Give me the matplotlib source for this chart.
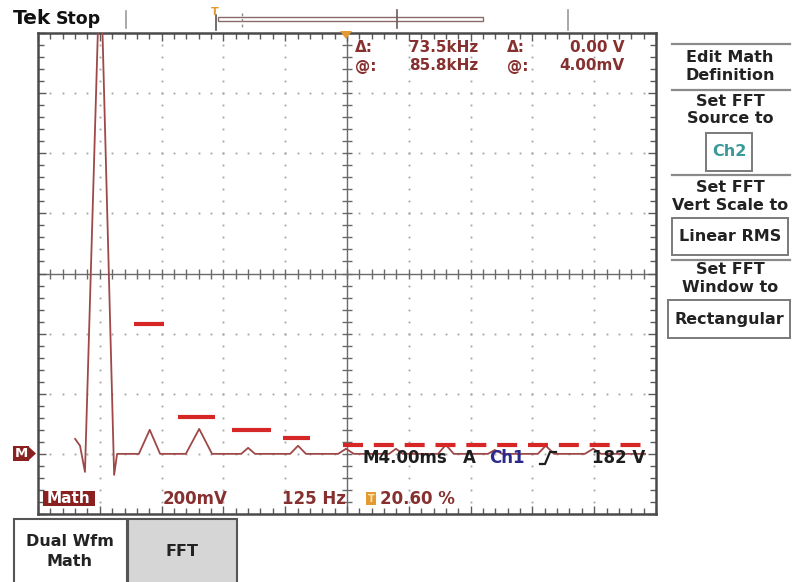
import matplotlib
matplotlib.use("Agg")
import matplotlib.pyplot as plt
from matplotlib.patches import Rectangle, Polygon
from matplotlib.lines import Line2D
import numpy as np

plt.rcParams['font.family'] = ['DejaVu Sans']
plt.rcParams['font.weight'] = 'bold'

W, H = 792, 582

# FFT of the math waveform: frequency (Hz) and magnitude (mV, linear RMS)
freq_hz = [75, 85, 95, 126, 154, 160, 204, 226, 247, 299, 326, 352, 411, 425, 439,
           510, 526, 542, 607, 623, 639, 710, 724, 738, 809, 825, 841, 910, 924, 939,
           1011, 1027, 1044, 1106, 1123, 1139, 1228]
mag_mv = [50, 27, -60, 1680, -70, 0, 0, 80, 0, 0, 83, 0, 0, 20, 0,
          0, 27, 0, 0, 17, 0, 0, 17, 0, 0, 30, 0, 0, 13, 0,
          0, 27, 0, 0, 17, 0, 0]

# Harmonic level markers (solid bars) and the floor marker (dashed)
bar_lo_hz = [194, 283, 392, 496]
bar_hi_hz = [255, 358, 471, 550]
bar_mv = [433, 123, 80, 53]
floor_lo_hz, floor_hi_hz, floor_mv = 617, 1226, 30

# Scope settings
HZ_PER_DIV = 125
MV_PER_DIV = 200
N_XDIV, N_YDIV = 10, 8
Y_MIN = -200

# Readouts
cursor_rows = [("\u0394:", "73.5kHz", "\u0394:", "0.00 V"),
               ("@:", "85.8kHz", "@:", "4.00mV")]
menu_groups = [("Edit Math\nDefinition", None),
               ("Set FFT\nSource to", "Ch2"),
               ("Set FFT\nVert Scale to", "Linear RMS"),
               ("Set FFT\nWindow to", "Rectangular")]

RED = '#d62626'
TRACE = '#9e4848'
MAROON = '#8a2020'
TXT_RED = '#86302f'
GRID = '#a2a2a2'
ORANGE = '#e39a32'
FS = 12
FS_MENU = 11.5
FS_CUR = 11

fig = plt.figure(figsize=(W / 100, H / 100), dpi=100)
fig.patch.set_facecolor('white')


def fx(x):
    return x / W


def fy(y):
    return 1 - y / H


def ftext(x, y, s, **kw):
    kw.setdefault('va', 'center')
    kw.setdefault('fontweight', 'bold')
    return fig.text(fx(x), fy(y), s, **kw)


def frect(x0, y0, x1, y1, **kw):
    r = Rectangle((fx(x0), fy(y1)), fx(x1) - fx(x0), fy(y0) - fy(y1),
                  transform=fig.transFigure, **kw)
    fig.add_artist(r)
    return r


def fline(xs, ys, **kw):
    ln = Line2D([fx(v) for v in xs], [fy(v) for v in ys],
                transform=fig.transFigure, **kw)
    fig.add_artist(ln)
    return ln


# ---- graticule ----
L, T, R, B = 38, 33, 656, 514
ax = fig.add_axes([fx(L), fy(B), fx(R) - fx(L), fy(T) - fy(B)])
x_max = HZ_PER_DIV * N_XDIV
y_max = Y_MIN + MV_PER_DIV * N_YDIV
ax.set_xlim(0, x_max)
ax.set_ylim(Y_MIN, y_max)
for s in ax.spines.values():
    s.set_color('#4a4a4a')
    s.set_linewidth(1.8)
ax.set_xticks(np.arange(0, x_max + 1, HZ_PER_DIV))
ax.set_xticks(np.arange(0, x_max + 1, HZ_PER_DIV / 5), minor=True)
ax.set_yticks(np.arange(Y_MIN, y_max + 1, MV_PER_DIV))
ax.set_yticks(np.arange(Y_MIN, y_max + 1, MV_PER_DIV / 5), minor=True)
ax.tick_params(which='both', direction='in', top=True, right=True,
               labelbottom=False, labelleft=False, color='#5a5a5a', width=1)
ax.tick_params(which='major', length=6)
ax.tick_params(which='minor', length=4)

xc = x_max / 2
yc = (Y_MIN + y_max) / 2
minor_x = np.arange(HZ_PER_DIV / 5, x_max, HZ_PER_DIV / 5)
minor_y = np.arange(Y_MIN + MV_PER_DIV / 5, y_max, MV_PER_DIV / 5)

# dotted division lines
for gy in np.arange(Y_MIN + MV_PER_DIV, y_max, MV_PER_DIV):
    if gy == yc:
        continue
    ax.plot(minor_x, np.full_like(minor_x, gy), ls='none', marker='s',
            ms=1.3, mew=0, color=GRID, zorder=1)
for gx in np.arange(HZ_PER_DIV, x_max, HZ_PER_DIV):
    if gx == xc:
        continue
    ax.plot(np.full_like(minor_y, gx), minor_y, ls='none', marker='s',
            ms=1.3, mew=0, color=GRID, zorder=1)

# centre crosshair with tick marks
ax.axhline(yc, color='#6a6a6a', lw=1.0, zorder=1)
ax.axvline(xc, color='#6a6a6a', lw=1.0, zorder=1)
ax.plot(minor_x, np.full_like(minor_x, yc), ls='none', marker='|', ms=7,
        mew=1, color='#6a6a6a', zorder=1)
ax.plot(np.full_like(minor_y, xc), minor_y, ls='none', marker='_', ms=7,
        mew=1, color='#6a6a6a', zorder=1)

# spectrum trace
ax.plot(freq_hz, mag_mv, color=TRACE, lw=1.3, zorder=4)

# level markers
for lo, hi, mv in zip(bar_lo_hz, bar_hi_hz, bar_mv):
    ax.plot([lo, hi], [mv, mv], color=RED, lw=3, solid_capstyle='butt', zorder=5)
ax.plot([floor_lo_hz, floor_hi_hz], [floor_mv, floor_mv], color=RED, lw=3,
        ls=(0, (4.8, 2.6)), dash_capstyle='butt', zorder=5)

# ---- top status bar ----
ftext(13, 19, "Tek", fontsize=14.5, color='#111111')
ftext(56, 19, "Stop", fontsize=12.5, color='#111111')
fline([126, 126], [11, 28], color='#9a9a9a', lw=1.2)
ftext(215, 12, "T", fontsize=8, color=ORANGE, ha='center')
fline([216, 216], [15, 30], color='#555555', lw=1.2)
frect(218, 16.5, 483, 21, facecolor='white', edgecolor='#8a6a6a', lw=1.0)
fline([242, 242], [13, 27], color='#8a8a8a', lw=1.0, ls=(0, (2, 2)))
fline([397, 397], [10, 28], color='#6a5a5a', lw=1.2)
fline([568, 568], [10, 30], color='#9a9a9a', lw=1.2)
fig.add_artist(Polygon([[fx(340), fy(31)], [fx(352), fy(31)], [fx(346), fy(39)]],
                       closed=True, transform=fig.transFigure,
                       facecolor=ORANGE, edgecolor='none', zorder=6))

# ---- cursor readouts ----
for (a, va, b, vb), y in zip(cursor_rows, [48, 66]):
    ftext(355, y, a, fontsize=FS_CUR, color=TXT_RED, ha='left')
    ftext(478, y, va, fontsize=FS_CUR, color=TXT_RED, ha='right')
    ftext(507, y, b, fontsize=FS_CUR, color=TXT_RED, ha='left')
    ftext(624, y, vb, fontsize=FS_CUR, color=TXT_RED, ha='right')

# ---- reference marker and status lines ----
frect(13, 446, 29, 461, facecolor=MAROON, edgecolor='none')
ftext(21, 453.5, "M", fontsize=9.5, color='white', ha='center')
fig.add_artist(Polygon([[fx(29), fy(447)], [fx(36), fy(453.5)], [fx(29), fy(460)]],
                       closed=True, transform=fig.transFigure,
                       facecolor=MAROON, edgecolor='none'))

ftext(362, 458, "M4.00ms", fontsize=FS, color='#1e1e1e', ha='left')
ftext(463, 458, "A", fontsize=FS, color='#1e1e1e', ha='left')
ftext(489, 458, "Ch1", fontsize=FS, color='#2a2a8c', ha='left')
fline([540, 545, 550, 556], [464, 464, 452, 452], color='#1e1e1e', lw=1.6)
ftext(645, 458, "182 V", fontsize=FS, color='#1e1e1e', ha='right')

frect(43, 491, 95, 506, facecolor=MAROON, edgecolor='none')
ftext(69, 498.5, "Math", fontsize=11, color='white', ha='center')
ftext(163, 498.5, "200mV", fontsize=FS, color=TXT_RED, ha='left')
ftext(282, 498.5, "125 Hz", fontsize=FS, color=TXT_RED, ha='left')
frect(366, 492, 376, 505, facecolor=ORANGE, edgecolor='none')
ftext(371, 498.5, "T", fontsize=7, color='#fbe3b0', ha='center')
ftext(380, 498.5, "20.60 %", fontsize=FS, color=TXT_RED, ha='left')

# ---- side menu ----
sep_y = [44, 90, 175, 260]
label_y = [(58, 76), (101, 119), (187, 205), (270, 288)]
box_y = [None, (133, 171), (218, 255), (300, 338)]
box_x = [None, (706, 752), (672, 788), (668, 790)]
for (label, val), sy, (y1, y2), by, bx in zip(menu_groups, sep_y, label_y, box_y, box_x):
    fline([672, 790], [sy, sy], color='#8a8a8a', lw=1.6)
    l1, l2 = label.split("\n")
    ftext(730, y1, l1, fontsize=FS_MENU, color='#222222', ha='center')
    ftext(730, y2, l2, fontsize=FS_MENU, color='#222222', ha='center')
    if val is not None:
        frect(bx[0], by[0], bx[1], by[1], facecolor='white', edgecolor='#7a7a7a', lw=1.4)
        col = '#3a9a9a' if val == "Ch2" else '#222222'
        ftext((bx[0] + bx[1]) / 2, (by[0] + by[1]) / 2, val, fontsize=FS_MENU,
              color=col, ha='center')

# ---- bottom soft keys ----
frect(14, 519, 127, 584, facecolor='white', edgecolor='#555555', lw=1.5)
frect(128, 519, 237, 584, facecolor='#d6d6d6', edgecolor='#555555', lw=1.5)
ftext(70, 542, "Dual Wfm", fontsize=FS_MENU, color='#222222', ha='center')
ftext(70, 561, "Math", fontsize=FS_MENU, color='#222222', ha='center')
ftext(182, 551, "FFT", fontsize=FS_MENU, color='#222222', ha='center')

fig.savefig("out.png", dpi=100, facecolor='white')
